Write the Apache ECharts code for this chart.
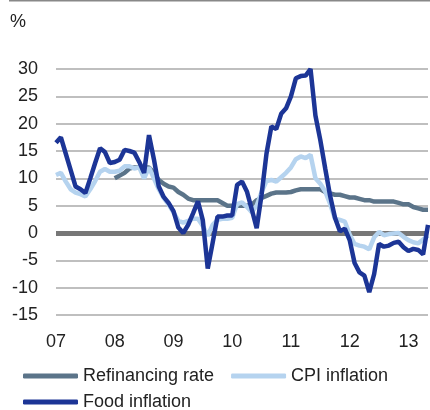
<!DOCTYPE html>
<html>
<head>
<meta charset="utf-8">
<script src="https://cdn.jsdelivr.net/npm/echarts@6/dist/echarts.min.js"></script>
<style>
  html, body { margin: 0; padding: 0; background: #fff; }
  #chart { width: 430px; height: 410px; }
</style>
</head>
<body>
<div id="chart"></div>
<script>
// year tick labels, one category per month Jan 07 .. May 13
const yearLabels = ['07', '08', '09', '10', '11', '12', '13']
const monthsInLastYear = 5

// % y/y, monthly
const refiRate = [
  null, null, null, null, null, null, null, null, null, null, null, null,
  10.0, 10.5, 11.0, 11.8, 12.0, 12.0, 12.0, 12.0, 11.0, 9.7, 9.0, 8.5,
  8.3, 7.5, 7.0, 6.3, 6.0, 6.0, 6.0, 6.0, 6.0, 6.0, 5.5, 5.0,
  5.0, 5.0, 5.0, 5.0, 5.2, 6.0, 6.4, 6.8, 7.2, 7.4, 7.4, 7.4,
  7.5, 7.8, 8.0, 8.0, 8.0, 8.0, 8.0, 7.5, 7.25, 7.0, 7.0, 6.75,
  6.5, 6.5, 6.25, 6.0, 6.0, 5.75, 5.75, 5.75, 5.75, 5.75, 5.5, 5.25,
  5.25, 4.75, 4.5, 4.25, 4.25
]
const cpiInflation = [
  10.6, 11.0, 9.4, 8.0, 7.4, 7.1, 6.7, 8.0, 9.5, 11.2, 11.7, 11.2,
  11.2, 11.4, 12.2, 12.2, 11.8, 12.0, 10.0, 12.0, 10.0, 8.0, 6.4, 5.2,
  3.8, 2.2, 1.9, 2.2, 2.6, 2.6, 1.3, -0.5, 1.5, 2.4, 2.6, 2.6,
  2.8, 5.3, 5.6, 4.8, 3.8, 5.0, 7.5, 9.5, 9.7, 9.4, 10.2, 11.0,
  12.0, 13.5, 14.0, 13.7, 14.3, 10.0, 9.0, 7.6, 5.3, 2.6, 2.4, 2.1,
  -0.3, -2.0, -2.3, -2.5, -3.0, -0.8, 0.2, -0.4, -0.2, -0.1, 0.0, -0.7,
  -1.3, -1.7, -1.9, -1.2, -0.5
]
const foodInflation = [
  16.5, 17.5, 14.5, 11.5, 8.5, 8.0, 7.3, 10.0, 12.8, 15.5, 14.8, 12.8,
  13.0, 13.4, 15.2, 15.0, 14.7, 13.0, 11.0, 17.9, 13.5, 8.5, 6.6, 5.5,
  4.0, 1.0, 0.0, 1.5, 3.6, 5.8, 2.3, -6.5, -1.8, 3.0, 3.0, 3.2,
  3.2, 8.8, 9.4, 7.6, 4.3, 0.9, 7.0, 14.5, 19.5, 19.0, 21.8, 22.8,
  25.0, 28.3, 28.7, 28.8, 30.0, 21.5, 17.0, 11.8, 6.8, 2.8, 0.3, 0.8,
  -1.3, -5.5, -7.2, -7.8, -10.8, -7.5, -2.0, -2.5, -2.3, -1.8, -1.6, -2.6,
  -3.3, -2.9, -3.1, -3.9, 1.5
]

const colors = {
  refi: '#5b7489',
  cpi: '#b5d3ef',
  food: '#1c3596'
}

const months = []
yearLabels.forEach((y, yi) => {
  const n = yi === yearLabels.length - 1 ? monthsInLastYear : 12
  for (let m = 1; m <= n; m++) months.push(y + '-' + m)
})

const chart = echarts.init(document.getElementById('chart'))

const legendText = { fontSize: 18, color: '#222', fontFamily: 'Liberation Sans, Arial, sans-serif' }

chart.setOption({
  animation: false,
  textStyle: { fontFamily: 'Liberation Sans, Arial, sans-serif' },
  grid: { left: 56, right: 2, top: 69, bottom: 95, outerBoundsMode: 'none' },
  graphic: [
    { type: 'rect', shape: { x: 9, y: 0, width: 421, height: 1.5 }, style: { fill: '#888' } },
    { type: 'text', left: 10, top: 13, style: { text: '%', fontSize: 18, fill: '#222', fontFamily: 'Liberation Sans, Arial, sans-serif' } }
  ],
  legend: [
    {
      data: ['Refinancing rate', 'CPI inflation'],
      left: 18, top: 362,
      icon: 'roundRect', itemWidth: 55, itemHeight: 5, itemGap: 17,
      textStyle: legendText
    },
    {
      data: ['Food inflation'],
      left: 18, top: 388,
      icon: 'roundRect', itemWidth: 55, itemHeight: 5,
      textStyle: legendText
    }
  ],
  xAxis: {
    type: 'category',
    data: months,
    boundaryGap: false,
    axisLine: { show: false },
    axisTick: { show: false },
    axisLabel: {
      interval: (idx) => idx % 12 === 0,
      formatter: (v) => v.split('-')[0],
      fontSize: 18,
      color: '#222',
      margin: 18
    },
    splitLine: { show: false }
  },
  yAxis: {
    type: 'value',
    min: -15,
    max: 30,
    interval: 5,
    axisLine: { show: false },
    axisTick: { show: false },
    axisLabel: { fontSize: 18, color: '#222', margin: 18 },
    splitLine: { lineStyle: { color: '#aaa', width: 1.5 } }
  },
  series: [
    {
      name: 'Refinancing rate',
      type: 'line',
      data: refiRate,
      symbol: 'none',
      z: 3,
      lineStyle: { color: colors.refi, width: 4.5 },
      itemStyle: { color: colors.refi },
      markLine: {
        silent: true,
        symbol: 'none',
        z: 1,
        label: { show: false },
        lineStyle: { color: '#777', width: 5, type: 'solid' },
        data: [{ yAxis: 0 }]
      }
    },
    {
      name: 'CPI inflation',
      type: 'line',
      data: cpiInflation,
      symbol: 'none',
      z: 4,
      lineStyle: { color: colors.cpi, width: 4.5 },
      itemStyle: { color: colors.cpi }
    },
    {
      name: 'Food inflation',
      type: 'line',
      data: foodInflation,
      symbol: 'none',
      z: 5,
      lineStyle: { color: colors.food, width: 4.5 },
      itemStyle: { color: colors.food }
    }
  ]
})
</script>
</body>
</html>
